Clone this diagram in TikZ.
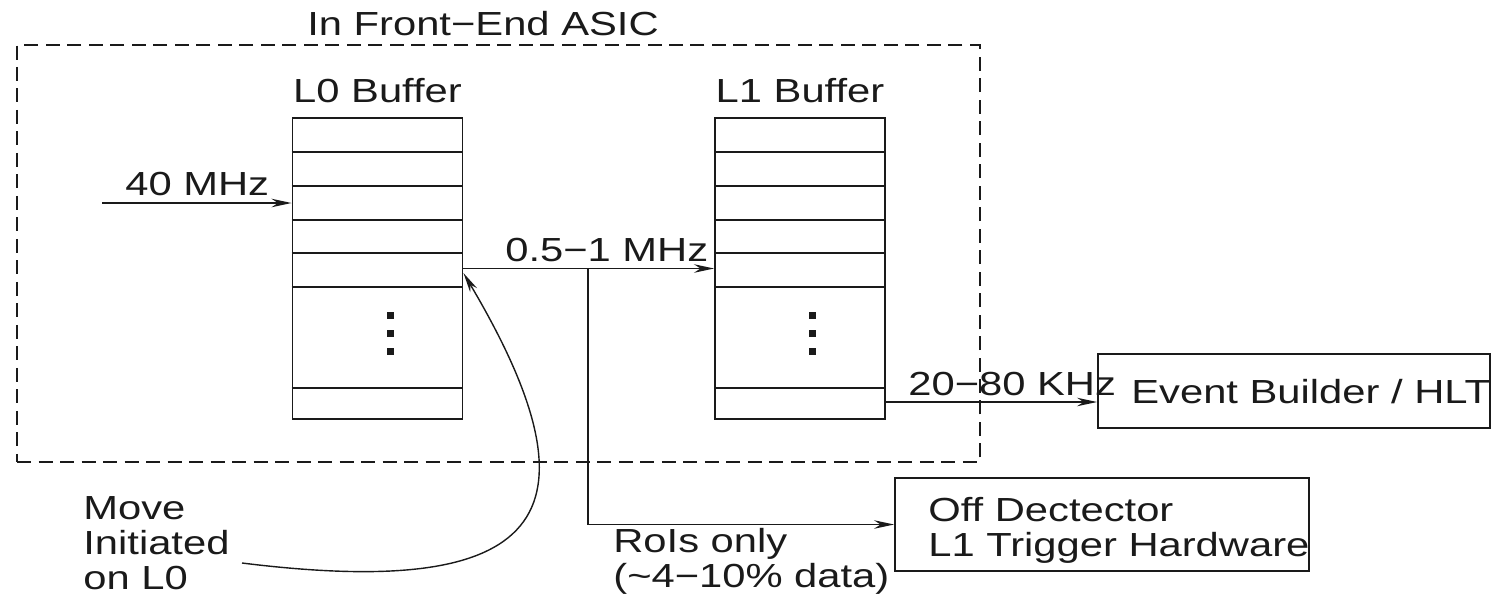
\documentclass[tikz,border=0pt]{standalone}
\usepackage{fontspec}
\setmainfont{Liberation Sans}[FakeStretch=1.25]
\usetikzlibrary{arrows.meta,positioning,calc}
\definecolor{Ink}{HTML}{1A1A1A}
\tikzset{
  lbl/.style={inner sep=0pt, font=\fontsize{19}{19.9}\selectfont, text=Ink},
  bufbox/.style={draw=Ink, line width=1.1pt, minimum width=3.4cm,
    minimum height=6.02cm, inner sep=0pt},
  outbox/.style={draw=Ink, line width=1.1pt, inner sep=0pt},
  asicframe/.style={draw=Ink, line width=1.1pt, inner sep=0pt,
    dash pattern=on 0.28cm off 0.15cm},
  rowline/.style={draw=Ink, line width=1.1pt},
  flowarr/.style={-{Stealth[length=0.4cm,width=0.17cm]}, line width=1.1pt, color=Ink},
  movearr/.style={-{Stealth[length=0.4cm,width=0.16cm]}, line width=0.8pt, color=Ink},
}

\begin{document}
\begin{tikzpicture}[x=0.02cm, y=-0.02cm]
  \useasboundingbox (0,0) rectangle (1502,596);

  % front-end frame
  \node[asicframe, minimum width=19.26cm, minimum height=8.34cm] (asic) at (498.5,253.5) {};
  \node[lbl, anchor=base] (asiclbl) at (483,35) {In Front−End ASIC};

  % the two buffers
  \node[bufbox] (l0) at (377.5,268.5) {};
  \node[bufbox] (l1) at (800,268.5) {};
  \node[lbl, anchor=base] (l0lbl) at ([yshift=0.3cm]l0.north) {L0 Buffer};
  \node[lbl, anchor=base] (l1lbl) at ([yshift=0.3cm]l1.north) {L1 Buffer};

  \foreach \b in {l0,l1} {
    \foreach \y in {152,186,220,253,287,388}
      \draw[rowline] (\b.west |- 0,\y) -- (\b.east |- 0,\y);
    \foreach \y in {315,333,351}
      \fill[Ink] ($(\b.center |- 0,\y)+(9,-3.5)$) rectangle +(7,7);
  }

  % destinations
  \node[outbox, minimum width=7.84cm, minimum height=1.48cm] (eb) at (1294,391) {};
  \node[lbl, anchor=base west] (ebtxt) at (1131,403) {Event Builder / HLT};
  \node[outbox, minimum width=8.28cm, minimum height=1.86cm] (off) at (1102,524.5) {};
  \node[lbl, anchor=north west, align=left] (offtxt) at (928,497)
    {Off Dectector\\L1 Trigger Hardware};

  % data flow
  \coordinate (src) at (102,203);
  \draw[flowarr] (src) -- (src -| l0.west);
  \node[lbl, anchor=base west] (f40) at (125,195) {40 MHz};

  \draw[flowarr] (l0.east) -- (l1.west);
  \node[lbl, anchor=base west] (f05) at (505,261) {0.5−1 MHz};

  \coordinate (tap) at (588,268.5);
  \draw[flowarr] (tap) |- (off.west);
  \node[lbl, anchor=north west, align=left] (roi) at (613,528)
    {RoIs only\\(\textasciitilde 4−10\% data)};

  \draw[flowarr] (l1.east |- 0,402) -- (eb.west |- 0,402);
  \node[lbl, anchor=base west] (f20) at (908,395) {20−80 KHz};

  % L0 move
  \node[lbl, anchor=north west, align=left] (mv) at (83,496) {Move\\Initiated\\on L0};
  \coordinate (mvtail) at (242,563);
  \draw[movearr] (mvtail) .. controls (540,600) and (610,520) .. (l0.east |- 0,273);
\end{tikzpicture}
\end{document}
